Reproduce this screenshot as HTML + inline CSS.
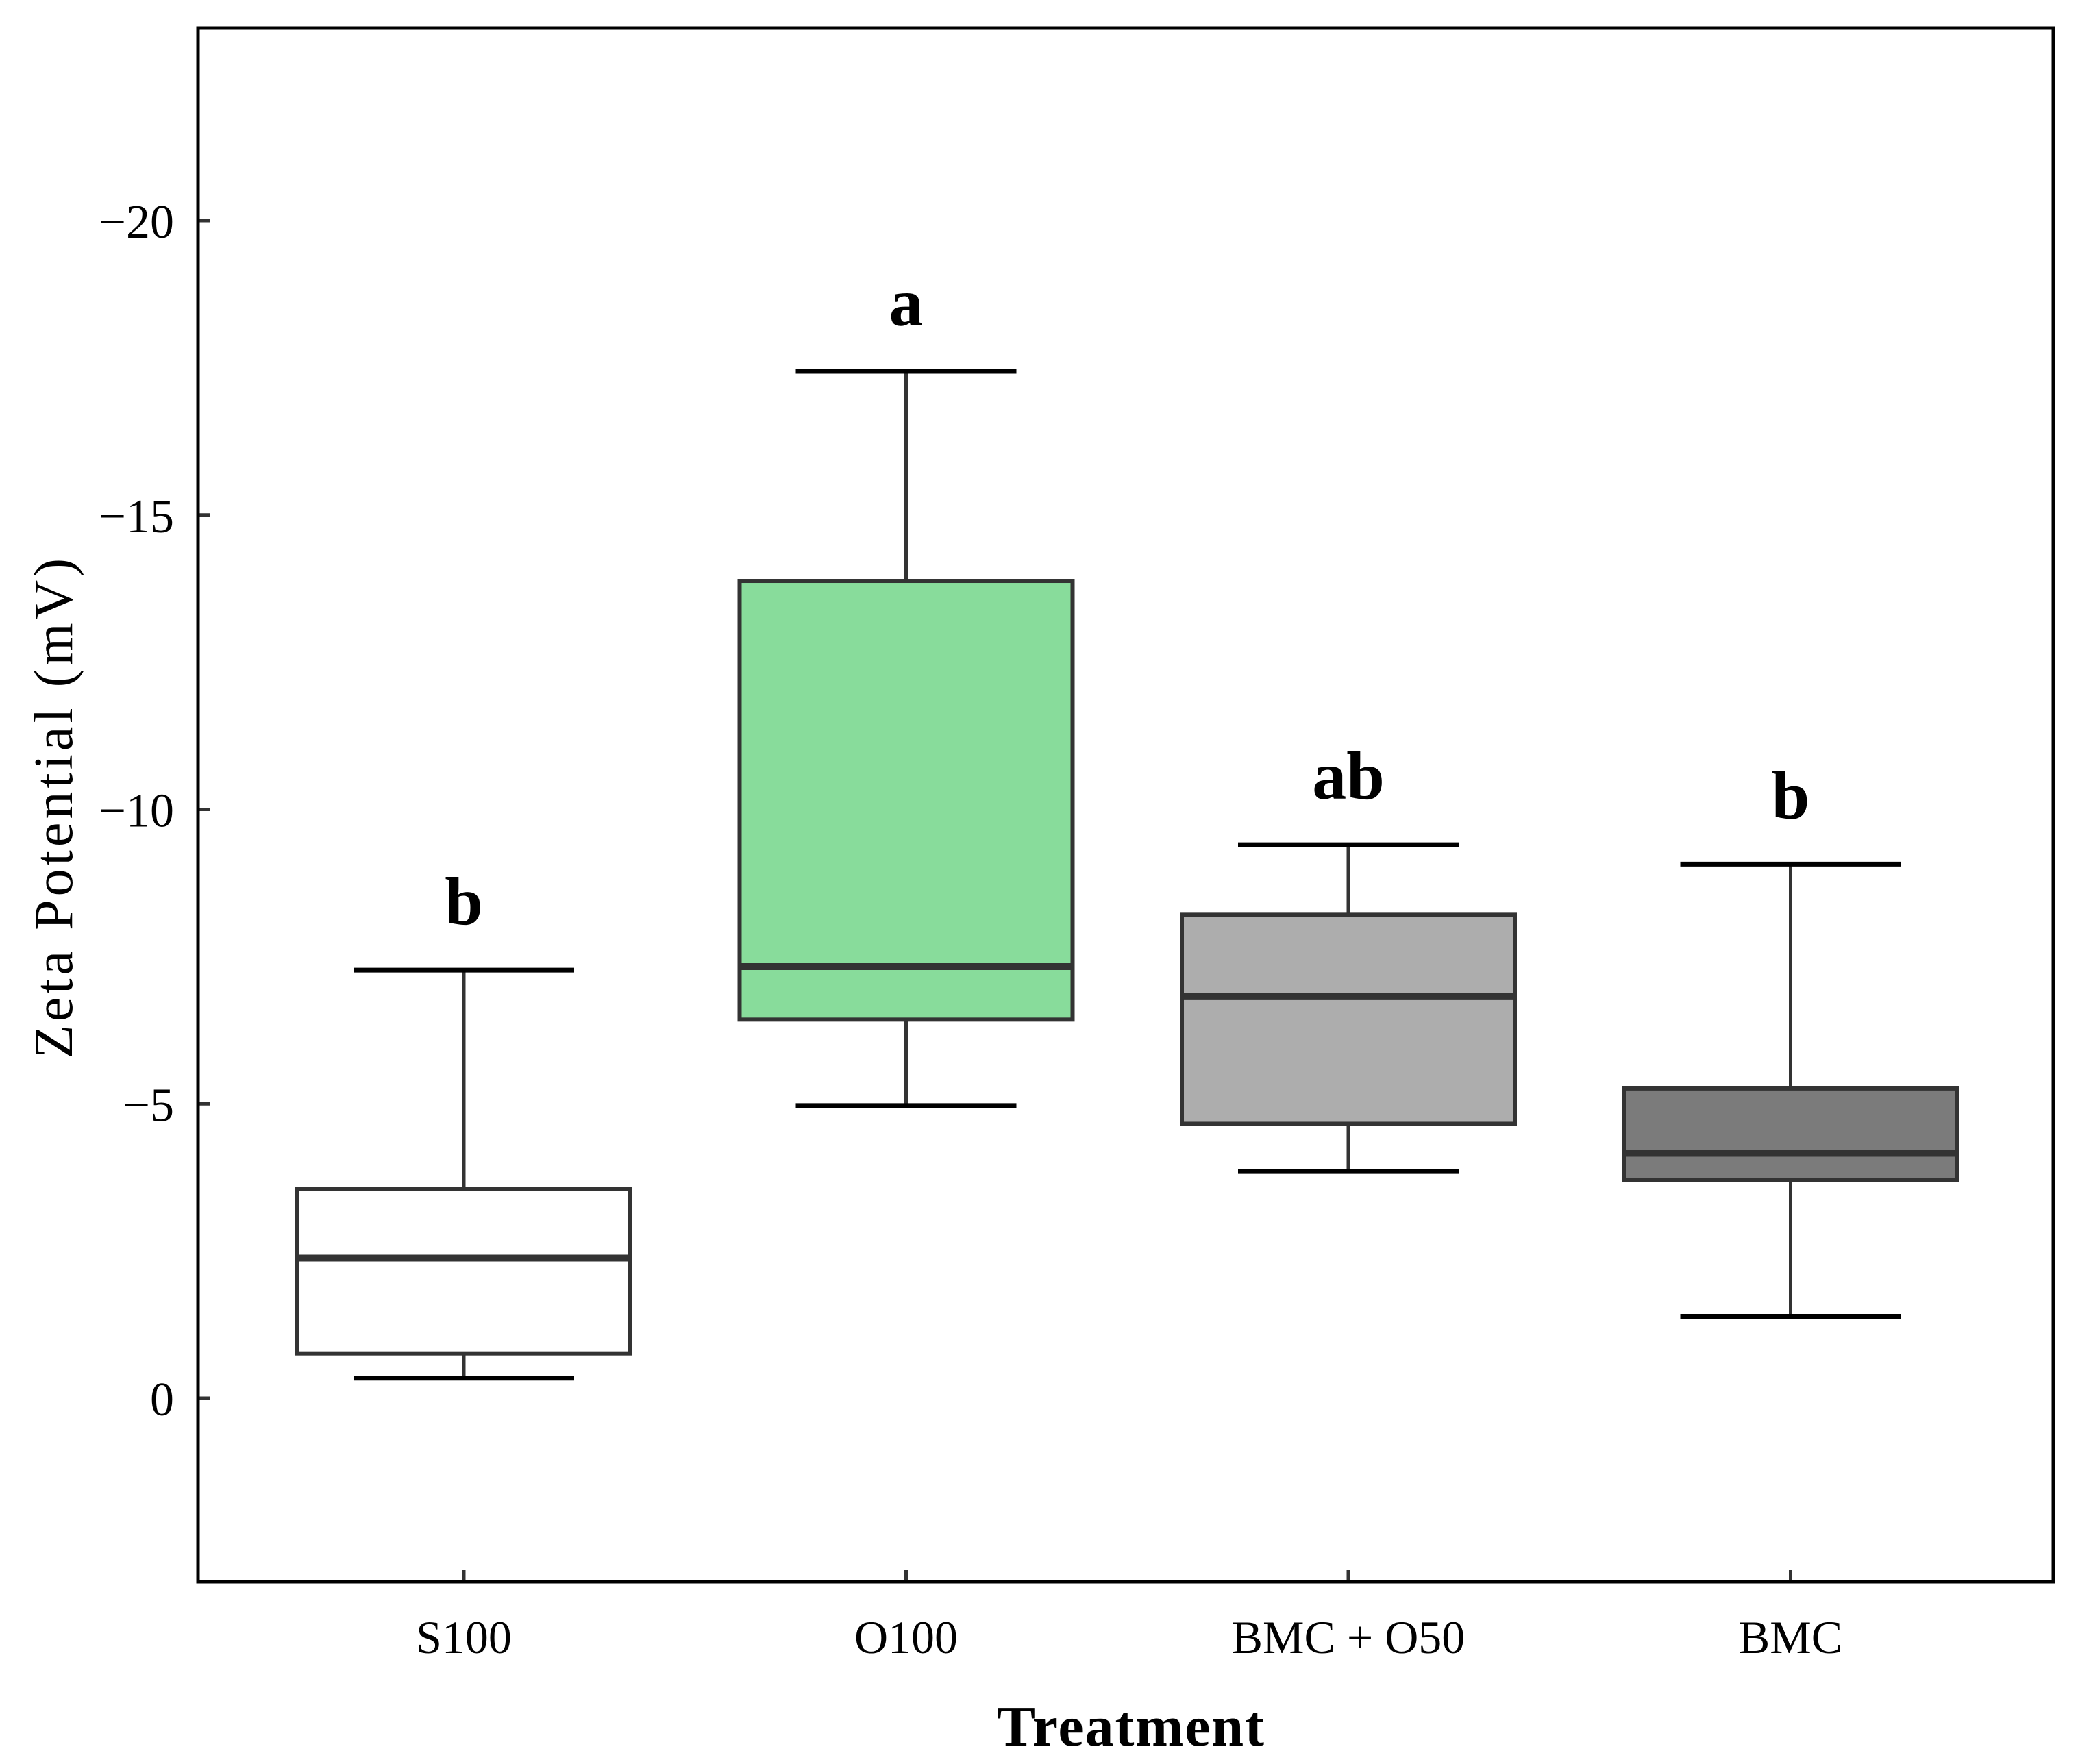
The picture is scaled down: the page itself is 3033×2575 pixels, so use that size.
<!DOCTYPE html>
<html><head><meta charset="utf-8"><style>body{margin:0;background:#fff}svg{display:block}</style></head>
<body>
<svg id="chart" width="3033" height="2575" viewBox="0 0 3033 2575" xmlns="http://www.w3.org/2000/svg">
<rect x="0" y="0" width="3033" height="2575" fill="#fff"/>
<g id="plot"></g>
<rect x="289" y="41" width="2708" height="2268" fill="none" stroke="#000" stroke-width="5"/>
<text x="1650" y="2548" font-family="'Liberation Serif', serif" font-weight="bold" font-size="84" text-anchor="middle" textLength="390">Treatment</text>
<text transform="translate(105,1180) rotate(-90)" font-family="'Liberation Serif', serif" font-size="80" text-anchor="middle" textLength="730">Zeta Potential (mV)</text>
</svg>
<script>
const categories = ["S100", "O100", "BMC + O50", "BMC"];
const whiskerHigh = [7.27, 17.44, 9.40, 9.07];
const q3 = [3.55, 13.88, 8.21, 5.26];
const median = [2.38, 7.33, 6.82, 4.16];
const q1 = [0.76, 6.43, 4.66, 3.71];
const whiskerLow = [0.34, 4.97, 3.85, 1.39];
const letters = ["b", "a", "ab", "b"];
const yTicks = [0, 5, 10, 15, 20];
const yTickLabels = ["0", "\u22125", "\u221210", "\u221215", "\u221220"];
const fills = ["#ffffff", "#88dc9b", "#adadad", "#7b7b7b"];

const NS = "http://www.w3.org/2000/svg";
const g = document.getElementById("plot");
function yScale(v){ return 2041 - v * 85.95; }
function xScale(i){ return 677 + i * 645.5; }
function el(tag, attrs){ const e = document.createElementNS(NS, tag); for (const k in attrs) e.setAttribute(k, attrs[k]); g.appendChild(e); return e; }

yTicks.forEach((t, i) => {
  const y = yScale(t);
  const tk = el("line", {x1: 289, x2: 306, y1: y, y2: y, stroke: "#333", "stroke-width": 5});
  
  
  const lb = el("text", {x: 254, y: y + 25, "font-family": "'Liberation Serif', serif", "font-size": 70, "text-anchor": "end"});
  lb.textContent = yTickLabels[i];
  
  
});

categories.forEach((c, i) => {
  const x = xScale(i);
  const tk = el("line", {x1: x, x2: x, y1: 2292, y2: 2309, stroke: "#333", "stroke-width": 5});
  
  
  const lb = el("text", {x: x, y: 2413, "font-family": "'Liberation Serif', serif", "font-size": 68, "text-anchor": "middle"});
  lb.textContent = c;
  
  

  const w1 = el("line", {x1: x, x2: x, y1: yScale(whiskerHigh[i]), y2: yScale(q3[i]), stroke: "#333", "stroke-width": 5});
  
  
  const w2 = el("line", {x1: x, x2: x, y1: yScale(q1[i]), y2: yScale(whiskerLow[i]), stroke: "#333", "stroke-width": 5});
  
  
  const c1 = el("line", {x1: x - 161, x2: x + 161, y1: yScale(whiskerHigh[i]), y2: yScale(whiskerHigh[i]), stroke: "#000", "stroke-width": 7});
  
  
  const c2 = el("line", {x1: x - 161, x2: x + 161, y1: yScale(whiskerLow[i]), y2: yScale(whiskerLow[i]), stroke: "#000", "stroke-width": 7});
  
  
  const b = el("rect", {x: x - 243, width: 486, y: yScale(q3[i]), height: yScale(q1[i]) - yScale(q3[i]), fill: fills[i], stroke: "#333", "stroke-width": 6});
  
  
  const m = el("line", {x1: x - 243, x2: x + 243, y1: yScale(median[i]), y2: yScale(median[i]), stroke: "#333", "stroke-width": 10});
  
  
  const lt = el("text", {x: x, y: yScale(whiskerHigh[i]) - 67, "font-family": "'Liberation Serif', serif", "font-weight": "bold", "font-size": 100, "text-anchor": "middle"});
  lt.textContent = letters[i];
  
  
});
</script>
</body></html>
